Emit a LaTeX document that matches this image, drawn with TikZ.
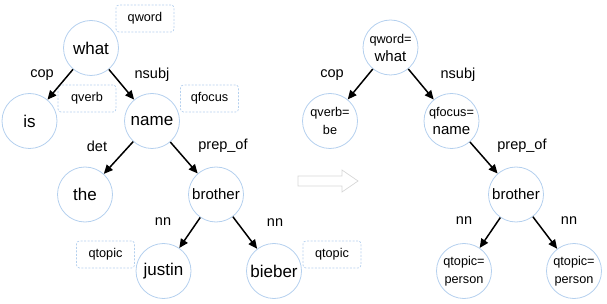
\documentclass[tikz,border=0pt]{standalone}
\usepackage{fontspec}
\setmainfont{Liberation Sans}
\usetikzlibrary{arrows.meta}
\definecolor{circ}{HTML}{B4D0EE}
\definecolor{hol}{HTML}{D6D6D6}
\tikzset{
  word/.style={circle, draw=circ, line width=0.8pt, minimum size=55pt, inner sep=0pt, font=\fontsize{17}{19}\selectfont},
  mword/.style={word, font=\fontsize{15}{17}\selectfont},
  tag/.style={draw=circ, dashed, dash pattern=on 2pt off 1.5pt, line width=0.7pt, rounded corners=3pt, minimum width=58pt, minimum height=27pt, inner sep=0pt, font=\fontsize{12.7}{14}\selectfont},
  rel/.style={font=\fontsize{14.5}{16}\selectfont, inner sep=0pt},
  dep/.style={-{Triangle[length=9pt,width=8pt]}, line width=1.5pt, black},
}
\newcommand{\twol}[2]{\fontsize{12.7}{14}\selectfont #1\\[-1pt]\fontsize{#2}{16}\selectfont}
\begin{document}
\begin{tikzpicture}[x=1pt,y=-1pt]
\useasboundingbox (0,0) rectangle (607,304);
% left tree
\node[word] (what) at (91,48) {what};
\node[word] (is) at (29.5,121) {is};
\node[word] (name) at (152,121) {name};
\node[word] (the) at (85,194.5) {the};
\node[mword] (brother) at (216,194.5) {brother};
\node[word] (justin) at (163.5,271) {justin};
\node[word] (bieber) at (274,271) {bieber};
\node[tag] (t1) at (145,18.5) {qword};
\node[tag] (t2) at (87,98.5) {qverb};
\node[tag] (t3) at (209.5,98.5) {qfocus};
\node[tag] (t4) at (105.5,254.5) {qtopic};
\node[tag] (t5) at (332,254.5) {qtopic};
\draw[dep] (what) -- (is);
\draw[dep] (what) -- (name);
\draw[dep] (name) -- (the);
\draw[dep] (name) -- (brother);
\draw[dep] (brother) -- (justin);
\draw[dep] (brother) -- (bieber);
\node[rel] (l1) at (42,75) {cop};
\node[rel] (l2) at (152,75) {nsubj};
\node[rel] (l3) at (97,146) {det};
\node[rel] (l4) at (223,146) {prep\_of};
\node[rel] (l5) at (163,222) {nn};
\node[rel] (l6) at (275,223) {nn};
% hollow arrow
\draw[hol, line width=0.7pt] (298,176) -- (342,176) -- (342,170) -- (358,181) -- (342,192) -- (342,186) -- (298,186) -- cycle;
% right tree
\node[word, align=center] (rwhat) at (390.5,47.5) {\twol{qword=}{15}what};
\node[word, align=center] (rbe) at (330,121) {\twol{qverb=}{12.7}be};
\node[word, align=center] (rname) at (451.5,121) {\twol{qfocus=}{15}name};
\node[mword] (rbrother) at (516,194.5) {brother};
\node[word, align=center] (rp1) at (464,271) {\twol{qtopic=}{12.7}person};
\node[word, align=center] (rp2) at (574,271) {\twol{qtopic=}{12.7}person};
\draw[dep] (rwhat) -- (rbe);
\draw[dep] (rwhat) -- (rname);
\draw[dep] (rname) -- (rbrother);
\draw[dep] (rbrother) -- (rp1);
\draw[dep] (rbrother) -- (rp2);
\node[rel] (r1) at (332,75) {cop};
\node[rel] (r2) at (458,75) {nsubj};
\node[rel] (r3) at (522,146) {prep\_of};
\node[rel] (r4) at (464,221) {nn};
\node[rel] (r5) at (569,221) {nn};
\end{tikzpicture}
\end{document}
